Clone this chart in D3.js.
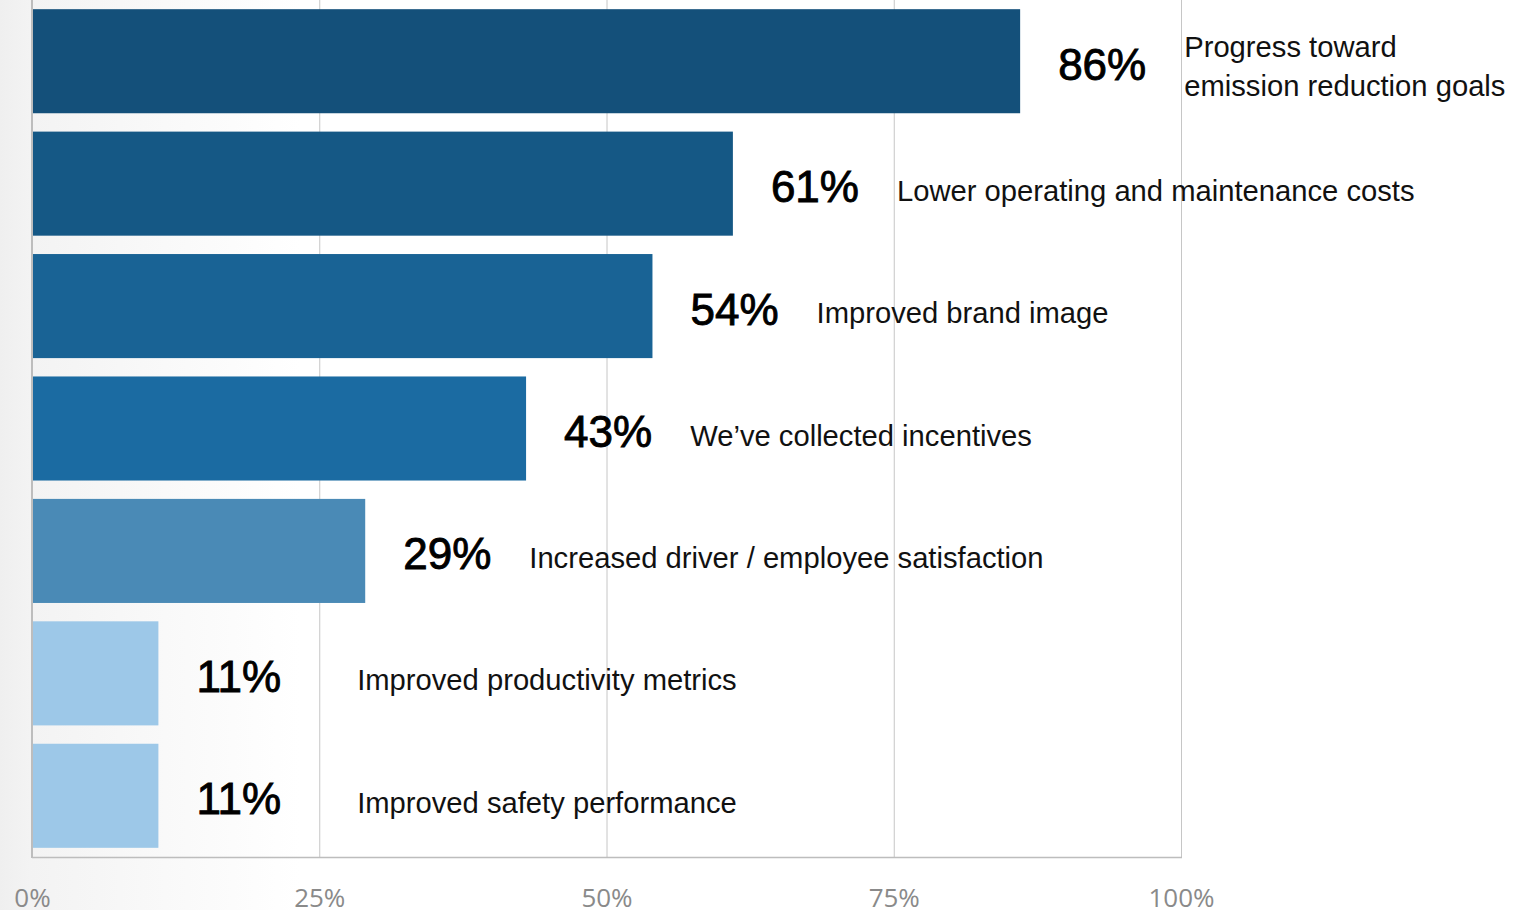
<!DOCTYPE html>
<html>
<head>
<meta charset="utf-8">
<script src="https://cdn.jsdelivr.net/npm/d3@7"></script>
<style>
  html, body { margin: 0; padding: 0; background: #fff; overflow: hidden; }
  svg { display: block; }
</style>
</head>
<body>
<svg id="chart" width="1539" height="910"></svg>
<script>
// Reported benefits of fleet electrification (share of respondents)
const categories = [
  ["Progress toward", "emission reduction goals"],
  ["Lower operating and maintenance costs"],
  ["Improved brand image"],
  ["We\u2019ve collected incentives"],
  ["Increased driver / employee satisfaction"],
  ["Improved productivity metrics"],
  ["Improved safety performance"]
];
const values = [86, 61, 54, 43, 29, 11, 11];
const barColors = ["#14507a", "#155885", "#196395", "#1b6ba2", "#4a8ab6", "#9dc8e8", "#9dc8e8"];
const tickValues = [0, 25, 50, 75, 100];

(function draw() {
  const svg = d3.select("#chart");
  const W = 1539, H = 910;
  const plotLeft = 32, plotRight = 1181, plotTop = 0, plotBottom = 857;
  const labelFont = "'Liberation Sans', Arial, Helvetica, sans-serif";

  // soft grey wash on the left edge
  const defs = svg.append("defs");
  const grad = defs.append("linearGradient").attr("id", "wash")
    .attr("x1", 0).attr("x2", 1).attr("y1", 0).attr("y2", 0);
  grad.append("stop").attr("offset", 0).attr("stop-color", "#efefef");
  grad.append("stop").attr("offset", 0.1).attr("stop-color", "#f3f3f3");
  grad.append("stop").attr("offset", 1).attr("stop-color", "#ffffff");
  svg.append("rect").attr("x", 0).attr("y", 0).attr("width", 300).attr("height", H)
    .attr("fill", "url(#wash)");

  const x = d3.scaleLinear().domain([0, 100]).range([plotLeft, plotRight]);
  const y = d3.scaleBand().domain(d3.range(values.length))
    .range([plotTop, plotBottom]).paddingInner(0.15).paddingOuter(0.075);

  // vertical gridlines
  svg.append("g").selectAll("line").data(tickValues.slice(1)).join("line")
    .attr("x1", d => x(d) + 0.5).attr("x2", d => x(d) + 0.5)
    .attr("y1", plotTop).attr("y2", plotBottom)
    .attr("stroke", "#c6c6c6").attr("stroke-width", 1);

  // bars
  svg.append("g").selectAll("rect").data(values).join("rect")
    .attr("x", x(0))
    .attr("y", (d, i) => y(i))
    .attr("width", d => x(d) - x(0))
    .attr("height", y.bandwidth())
    .attr("fill", (d, i) => barColors[i]);

  // axis lines
  svg.append("line").attr("x1", plotLeft).attr("x2", plotLeft)
    .attr("y1", plotTop).attr("y2", plotBottom + 1)
    .attr("stroke", "#bdbdbd").attr("stroke-width", 2);
  svg.append("line").attr("x1", plotLeft).attr("x2", plotRight + 1)
    .attr("y1", plotBottom + 0.5).attr("y2", plotBottom + 0.5)
    .attr("stroke", "#bdbdbd").attr("stroke-width", 1.5);

  // x tick labels
  const xAxis = d3.axisBottom(x).tickValues(tickValues).tickFormat(d => d + "%")
    .tickSize(0).tickPadding(0);
  const ax = svg.append("g").attr("transform", `translate(0, ${plotBottom})`).call(xAxis);
  ax.select(".domain").remove();
  ax.selectAll("text")
    .attr("y", 50).attr("dy", 0)
    .attr("font-family", "'Open Sans', sans-serif")
    .attr("font-size", 26)
    .attr("fill", "#8a8a8a");

  // value and category labels
  const labelColumnMin = x(28.3);
  const rows = svg.append("g");
  values.forEach((v, i) => {
    const cy = y(i) + y.bandwidth() / 2;
    const pctX = x(v) + 38;
    const pct = rows.append("text")
      .attr("x", pctX)
      .attr("y", cy + 18.5)
      .attr("font-family", labelFont)
      .attr("font-size", 44)
      .attr("fill", "#000")
      .attr("stroke", "#000")
      .attr("stroke-width", 0.9)
      .text(v + "%");
    const pctEnd = pctX + pct.node().getComputedTextLength();
    const lx = Math.max(pctEnd + 38, labelColumnMin);
    const lines = categories[i];
    const lh = 39;
    const base = lines.length > 1 ? cy + 15 : cy + 17;
    const t = rows.append("text")
      .attr("font-family", labelFont)
      .attr("font-size", 29.2)
      .attr("fill", "#111");
    lines.forEach((line, j) => {
      t.append("tspan")
        .attr("x", lx)
        .attr("y", base + (j - (lines.length - 1) / 2) * lh)
        .text(line);
    });
  });
})();
</script>
</body>
</html>
